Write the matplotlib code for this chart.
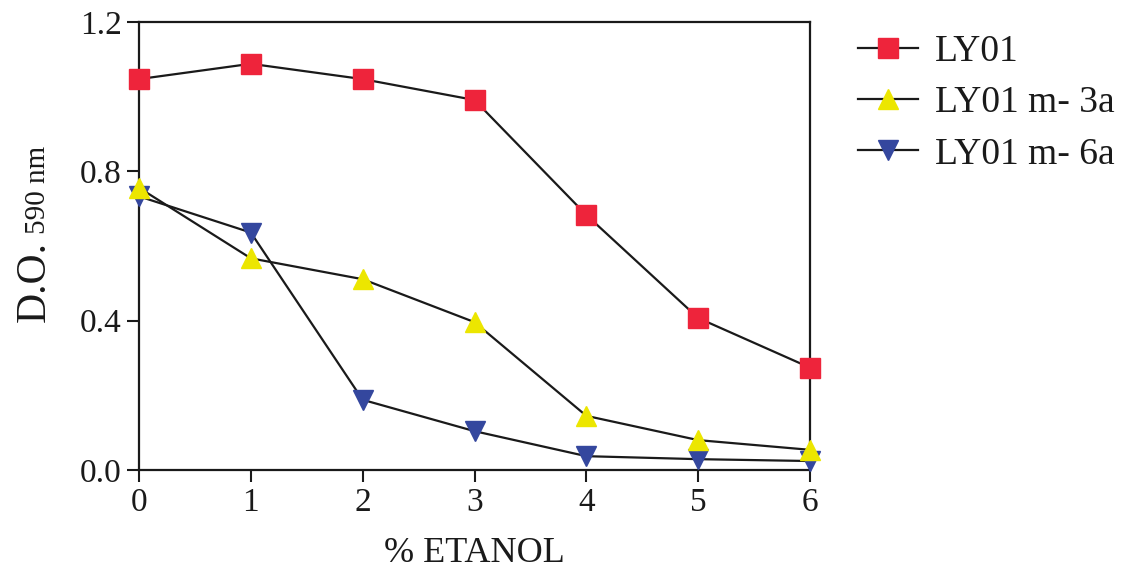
import numpy as np
import matplotlib
matplotlib.use("Agg")
import matplotlib.pyplot as plt

# % etanol on the x axis
etanol = [0, 1, 2, 3, 4, 5, 6]

# optical density at 590 nm
ly01 = [1.047, 1.088, 1.047, 0.991, 0.683, 0.407, 0.274]
ly01_m3a = [0.756, 0.567, 0.511, 0.396, 0.145, 0.080, 0.054]
ly01_m6a = [0.733, 0.636, 0.188, 0.104, 0.037, 0.029, 0.024]

labels = ["LY01", "LY01 m- 3a", "LY01 m- 6a"]
yticks = [0.0, 0.4, 0.8, 1.2]

plt.rcParams["font.family"] = ["Liberation Serif", "DejaVu Serif"]

fig = plt.figure(figsize=(11.29, 5.71), dpi=100)
ax = fig.add_axes([0.1231, 0.1769, 0.7175 - 0.1231, 0.9615 - 0.1769])

ax.plot(etanol, ly01, color="#1a1a1a", lw=1.6, marker="s", ms=14,
        mfc="#ee243b", mec="#ee243b", label=labels[0], clip_on=False, zorder=3)
ax.plot(etanol, ly01_m3a, color="#1a1a1a", lw=1.6, marker="^", ms=14,
        mfc="#ece600", mec="#ece600", label=labels[1], clip_on=False, zorder=4)
ax.plot(etanol, ly01_m6a, color="#1a1a1a", lw=1.6, marker="v", ms=14,
        mfc="#34479e", mec="#34479e", label=labels[2], clip_on=False, zorder=3)

ax.set_xlim(0, 6)
ax.set_ylim(0, 1.2)
ax.set_xticks(etanol)
ax.set_yticks(yticks)
ax.set_yticklabels(["%.1f" % v for v in yticks])
ax.tick_params(direction="out", length=8.5, width=1.5, labelsize=24,
               top=False, right=False, pad=4, colors="#1a1a1a")
for s in ax.spines.values():
    s.set_linewidth(1.6)
    s.set_color("#1a1a1a")

ax.set_xlabel("% ETANOL", fontsize=26, color="#1a1a1a", labelpad=14)

# y label: "D.O." large with a smaller "590 nm"
fig.text(0.040, 0.436, "D.O.", rotation=90, fontsize=30, color="#1a1a1a",
         ha="left", va="baseline", rotation_mode="anchor")
fig.text(0.040, 0.590, "590 nm", rotation=90, fontsize=21, color="#1a1a1a",
         ha="left", va="baseline", rotation_mode="anchor")

fig.legend(loc="upper left", bbox_to_anchor=(0.760, 0.94), frameon=False,
           fontsize=27, handlelength=1.6, handletextpad=0.45, labelspacing=0.45,
           borderpad=0, borderaxespad=0, labelcolor="#1a1a1a")

fig.savefig("out.png", dpi=100)
